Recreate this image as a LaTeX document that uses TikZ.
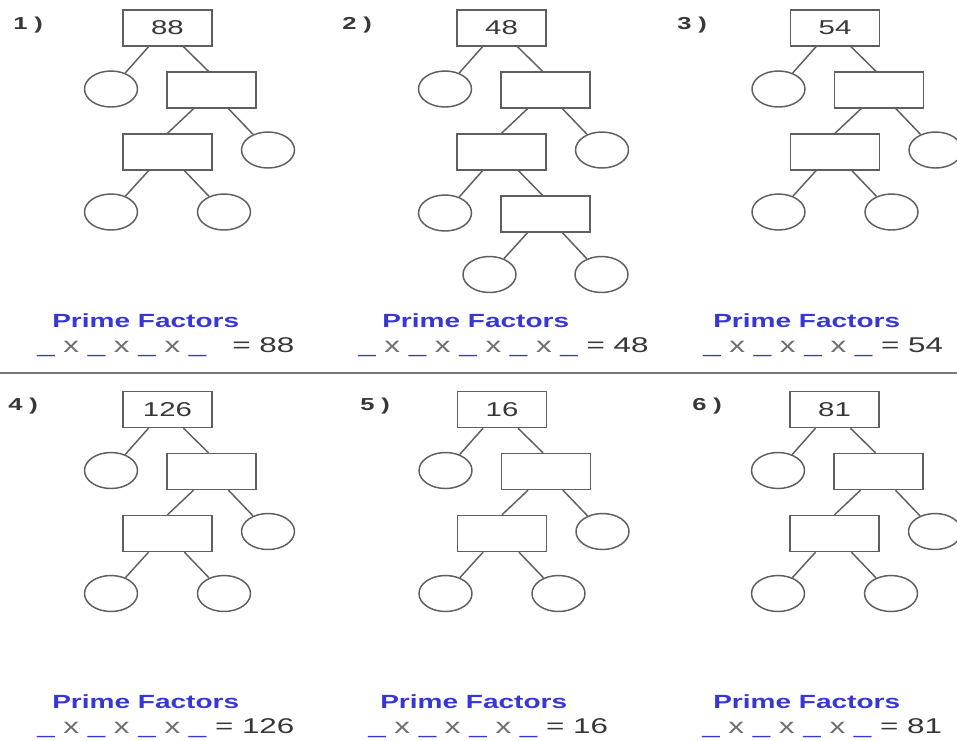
\documentclass[tikz,border=0pt]{standalone}
\usepackage{fontspec}
\usepackage{graphicx}
\setmainfont{Liberation Sans}
\usetikzlibrary{shapes.geometric}

\definecolor{pfblue}{RGB}{55,55,215}
\definecolor{inkgray}{RGB}{95,95,95}
\definecolor{textgray}{RGB}{55,55,55}
\definecolor{timesgray}{RGB}{110,110,110}
\definecolor{rulegray}{RGB}{120,120,120}

% worksheet lettering is set wide
\newcommand\wide[1]{\scalebox{1.47}[1]{#1}}
\newcommand\bk{\textcolor{pfblue}{\_}}
\newcommand\tx{\textcolor{timesgray}{x}}

\tikzset{
  numbox/.style={draw=inkgray, line width=1.1pt, minimum width=66.75pt,
    minimum height=27pt, inner sep=0pt, text=textgray,
    font=\fontsize{15}{15}\selectfont},
  factor/.style={ellipse, draw=inkgray, line width=1.1pt,
    minimum width=39.75pt, minimum height=27pt, inner sep=0pt},
  link/.style={draw=inkgray, line width=1.1pt},
  tag/.style={anchor=base west, inner sep=0pt, text=textgray,
    font=\bfseries\fontsize{13}{13}\selectfont},
  heading/.style={anchor=base west, inner sep=0pt, text=pfblue,
    font=\bfseries\fontsize{14.3}{14.3}\selectfont},
  product/.style={anchor=base west, inner sep=0pt, text=textgray,
    font=\fontsize{16}{16}\selectfont},
  % factor tree: number, then two more composite levels
  pics/ftreeA/.style={code={
    \node[numbox] (-root) at (0,0) {\wide{#1}};
    \node[factor] (-l1) at (-56.5,61) {};
    \node[numbox] (-b2) at (44,62) {};
    \node[numbox] (-b3) at (0,124) {};
    \node[factor] (-r2) at (100.5,122) {};
    \node[factor] (-l3) at (-56.5,184) {};
    \node[factor] (-r3) at (56.5,184) {};
    \draw[link] ([xshift=-14.25pt]-root.south) -- (-l1);
    \draw[link] ([xshift=12pt]-root.south) -- ([xshift=-2.25pt]-b2.north);
    \draw[link] ([xshift=-13.5pt]-b2.south) -- (-b3.north);
    \draw[link] ([xshift=12.75pt]-b2.south) -- (-r2);
    \draw[link] ([xshift=-14.25pt]-b3.south) -- (-l3);
    \draw[link] ([xshift=12.75pt]-b3.south) -- (-r3);
  }},
  % factor tree with one extra composite level
  pics/ftreeB/.style={code={
    \node[numbox] (-root) at (0,0) {\wide{#1}};
    \node[factor] (-l1) at (-56.5,61) {};
    \node[numbox] (-b2) at (44,62) {};
    \node[numbox] (-b3) at (0,124) {};
    \node[factor] (-r2) at (100.5,122) {};
    \node[factor] (-l3) at (-56.5,185) {};
    \node[numbox] (-b4) at (44,186) {};
    \node[factor] (-l4) at (-12,246.5) {};
    \node[factor] (-r4) at (100,246.5) {};
    \draw[link] ([xshift=-14.25pt]-root.south) -- (-l1);
    \draw[link] ([xshift=12pt]-root.south) -- ([xshift=-2.25pt]-b2.north);
    \draw[link] ([xshift=-13.5pt]-b2.south) -- (-b3.north);
    \draw[link] ([xshift=12.75pt]-b2.south) -- (-r2);
    \draw[link] ([xshift=-14.25pt]-b3.south) -- (-l3);
    \draw[link] ([xshift=12.75pt]-b3.south) -- ([xshift=-2.25pt]-b4.north);
    \draw[link] ([xshift=-13.5pt]-b4.south) -- (-l4);
    \draw[link] ([xshift=12.75pt]-b4.south) -- (-r4);
  }}
}

\begin{document}
\begin{tikzpicture}[x=0.75pt, y=-0.75pt]
  \fill[white] (0,0) rectangle (957,740);
  \useasboundingbox (0,0) rectangle (957,740);

  % top row
  \node[tag] (n1) at (13,29) {\wide{1 )}};
  \node[tag] (n2) at (342,29) {\wide{2 )}};
  \node[tag] (n3) at (677,29) {\wide{3 )}};
  \pic (t1) at (167.5,28) {ftreeA=88};
  \pic (t2) at (501.5,28) {ftreeB=48};
  \pic (t3) at (835,28) {ftreeA=54};
  \node[heading] (h1) at (52,327) {\wide{Prime Factors}};
  \node[heading] (h2) at (382,327) {\wide{Prime Factors}};
  \node[heading] (h3) at (713,327) {\wide{Prime Factors}};
  \node[product] (e1) at (37,352)
    {\wide{\bk\ \tx\ \bk\ \tx\ \bk\ \tx\ \bk\ \ \ = 88}};
  \node[product] (e2) at (358,352)
    {\wide{\bk\ \tx\ \bk\ \tx\ \bk\ \tx\ \bk\ \tx\ \bk\ = 48}};
  \node[product] (e3) at (703,352)
    {\wide{\bk\ \tx\ \bk\ \tx\ \bk\ \tx\ \bk\ = 54}};

  % separating rule
  \coordinate (ruleL) at (0,373);
  \coordinate (ruleR) at (957,373);
  \draw[draw=rulegray, line width=1.5pt] (ruleL) -- (ruleR);

  % bottom row
  \node[tag] (n4) at (8,410) {\wide{4 )}};
  \node[tag] (n5) at (360,410) {\wide{5 )}};
  \node[tag] (n6) at (692,410) {\wide{6 )}};
  \pic (t4) at (167.5,409.5) {ftreeA=126};
  \pic (t5) at (502,409.5) {ftreeA=16};
  \pic (t6) at (834.5,409.5) {ftreeA=81};
  \node[heading] (h4) at (52,708) {\wide{Prime Factors}};
  \node[heading] (h5) at (380,708) {\wide{Prime Factors}};
  \node[heading] (h6) at (713,708) {\wide{Prime Factors}};
  \node[product] (e4) at (37,733)
    {\wide{\bk\ \tx\ \bk\ \tx\ \bk\ \tx\ \bk\ = 126}};
  \node[product] (e5) at (368,733)
    {\wide{\bk\ \tx\ \bk\ \tx\ \bk\ \tx\ \bk\ = 16}};
  \node[product] (e6) at (702,733)
    {\wide{\bk\ \tx\ \bk\ \tx\ \bk\ \tx\ \bk\ = 81}};
\end{tikzpicture}
\end{document}
